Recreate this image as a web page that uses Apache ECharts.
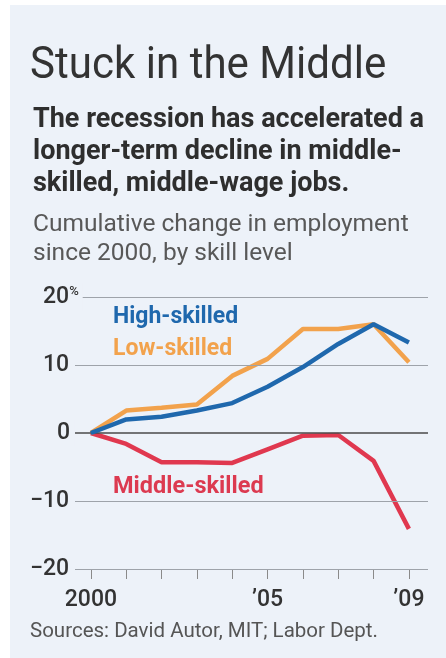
<!DOCTYPE html>
<html>
<head>
<meta charset="utf-8">
<script src="https://cdn.jsdelivr.net/npm/echarts@6/dist/echarts.min.js"></script>
<style>
  html, body { margin: 0; padding: 0; background: #ffffff; }
  #panel { position: absolute; left: 10px; top: 5px; width: 436px; height: 653px; background: #edf2f9; }
  #chart { position: absolute; left: 0; top: 0; width: 446px; height: 658px; }
</style>
</head>
<body>
<div id="panel"></div>
<div id="chart"></div>
<script>
// ---- data ----
const years = [2000, 2001, 2002, 2003, 2004, 2005, 2006, 2007, 2008, 2009];
const highSkilled = [0, 2.0, 2.4, 3.3, 4.4, 6.8, 9.7, 13.1, 16.0, 13.3];
const lowSkilled = [0, 3.3, 3.7, 4.2, 8.4, 10.9, 15.3, 15.3, 16.0, 10.4];
const middleSkilled = [0, -1.6, -4.3, -4.3, -4.4, -2.4, -0.4, -0.3, -4.1, -14.1];
const xLabelYears = [2000, 2005, 2009];
const xLabelText = { 2000: '2000', 2005: '\u201905', 2009: '\u201909' };
const yGridValues = [20, 10, -10, -20];
const yTickLabels = { '-20': '\u221220', '-10': '\u221210', '0': '0', '10': '10', '20': '20' };

const panelColor = '#edf2f9';
const FONT = 'Roboto, "Noto Sans", sans-serif';
const X_MIN = 1999.55, X_MAX = 2009.54;

function pairs(vals) { return years.map((y, i) => [y, vals[i]]); }

const chart = echarts.init(document.getElementById('chart'), null, { renderer: 'canvas' });

const option = {
  backgroundColor: 'transparent',
  animation: false,
  grid: { left: 75, right: 18, top: 297, bottom: 89 },
  xAxis: {
    type: 'value', min: X_MIN, max: X_MAX,
    axisLine: { show: false, onZero: false },
    splitLine: { show: false },
    axisTick: { show: true, customValues: years, length: 10, lineStyle: { color: '#8a8a8a', width: 1 } },
    axisLabel: {
      show: true, customValues: xLabelYears, margin: 20,
      formatter: v => xLabelText[Math.round(v)] || '',
      fontFamily: FONT, fontSize: 23, fontWeight: 500, color: '#333'
    }
  },
  yAxis: {
    type: 'value', min: -20, max: 20, interval: 10, z: 10,
    axisLine: { show: false }, axisTick: { show: false },
    splitLine: { show: false },
    axisLabel: {
      show: true, align: 'left', margin: 45,
      backgroundColor: panelColor, padding: [2, 4, 2, 0],
      formatter: function (v) {
        const t = yTickLabels[String(v)];
        if (v === 20) return '{a|' + t + '}{p|%}';
        if (v === 10) return '{a|' + t + '}';
        if (v === 0) return '{b|' + t + '}';
        return '{n|' + t + '}';
      },
      rich: {
        n: { fontFamily: FONT, fontSize: 23, fontWeight: 500, color: '#333' },
        a: { fontFamily: FONT, fontSize: 23, fontWeight: 500, color: '#333', padding: [0, 0, 0, 13] },
        b: { fontFamily: FONT, fontSize: 23, fontWeight: 500, color: '#333', padding: [0, 0, 0, 27] },
        p: { fontFamily: FONT, fontSize: 13, fontWeight: 500, color: '#333', verticalAlign: 'top', padding: [0, 0, 6, 0] }
      }
    }
  },
  series: [
    {
      name: 'Middle-skilled', type: 'line', data: pairs(middleSkilled), z: 3,
      symbol: 'none', lineStyle: { color: '#e0384f', width: 4.5 },
      markLine: {
        silent: true, symbol: 'none', label: { show: false },
        lineStyle: { color: '#4a4a4a', type: 'solid', width: 1.5 },
        data: [{ yAxis: 0 }]
      }
    },
    {
      name: 'Low-skilled', type: 'line', data: pairs(lowSkilled), z: 4,
      symbol: 'none', lineStyle: { color: '#f2a24c', width: 4.5 },
      markLine: {
        silent: true, symbol: 'none', label: { show: false },
        lineStyle: { color: '#9ea3aa', type: 'solid', width: 1 },
        data: yGridValues.map(v => ({ yAxis: v }))
      }
    },
    {
      name: 'High-skilled', type: 'line', data: pairs(highSkilled), z: 5,
      symbol: 'none', lineStyle: { color: '#1f68ad', width: 4.5 }
    }
  ],
  graphic: [
    { type: 'text', x: 30, y: 67, scaleX: 0.935, style: { text: 'Stuck in the Middle', fontFamily: FONT, fontSize: 45, fontWeight: 400, fill: '#333', verticalAlign: 'middle' } },
    { type: 'text', x: 33, y: 120, style: { text: 'The recession has accelerated a', fontFamily: FONT, fontSize: 27, fontWeight: 700, fill: '#2e2e2e', verticalAlign: 'middle' } },
    { type: 'text', x: 33, y: 152, style: { text: 'longer-term decline in middle-', fontFamily: FONT, fontSize: 27, fontWeight: 700, fill: '#2e2e2e', verticalAlign: 'middle' } },
    { type: 'text', x: 33, y: 184, style: { text: 'skilled, middle-wage jobs.', fontFamily: FONT, fontSize: 27, fontWeight: 700, fill: '#2e2e2e', verticalAlign: 'middle' } },
    { type: 'text', x: 33, y: 225, style: { text: 'Cumulative change in employment', fontFamily: FONT, fontSize: 24.5, fontWeight: 400, fill: '#585858', verticalAlign: 'middle' } },
    { type: 'text', x: 33, y: 254, style: { text: 'since 2000, by skill level', fontFamily: FONT, fontSize: 24.5, fontWeight: 400, fill: '#585858', verticalAlign: 'middle' } },
    { type: 'text', x: 113, y: 317, z: 10, style: { text: 'High-skilled', fontFamily: FONT, fontSize: 23, fontWeight: 700, fill: '#1f68ad', verticalAlign: 'middle' } },
    { type: 'text', x: 113, y: 349, z: 10, style: { text: 'Low-skilled', fontFamily: FONT, fontSize: 23, fontWeight: 700, fill: '#f2a24c', verticalAlign: 'middle' } },
    { type: 'text', x: 113, y: 487, z: 10, style: { text: 'Middle-skilled', fontFamily: FONT, fontSize: 23.5, fontWeight: 700, fill: '#dc3a50', verticalAlign: 'middle' } },
    { type: 'text', x: 30, y: 632, style: { text: 'Sources: David Autor, MIT; Labor Dept.', fontFamily: FONT, fontSize: 20.5, fontWeight: 400, fill: '#555', verticalAlign: 'middle' } }
  ]
};

chart.setOption(option);
</script>
</body>
</html>
